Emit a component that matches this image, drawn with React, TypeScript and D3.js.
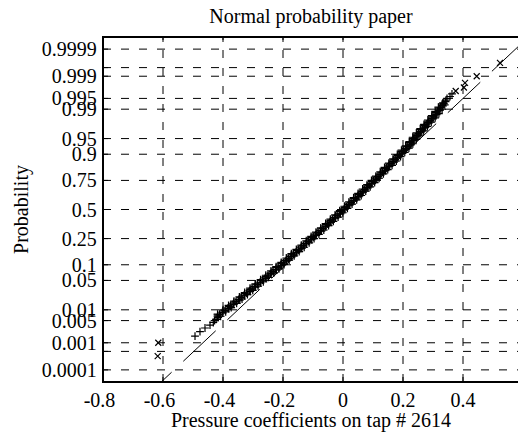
import React from "react";
import * as d3 from "d3";

// ---- data ----
const xTicks = [-0.8, -0.6, -0.4, -0.2, 0, 0.2, 0.4, 0.6];
const xTickLabels = ["-0.8", "-0.6", "-0.4", "-0.2", "0", "0.2", "0.4", ""];
const probTicks = [0.0001, 0.0005, 0.001, 0.005, 0.01, 0.05, 0.1, 0.25, 0.5, 0.75, 0.9, 0.95, 0.99, 0.995, 0.999, 0.9995, 0.9999];
const probLabels = ["0.0001", "", "0.001", "0.005", "0.01", "0.05", "0.1", "0.25", "0.5", "0.75", "0.9", "0.95", "0.99", "0.995", "0.999", "", "0.9999"];

// sample points (normal score of plotting position, pressure coefficient) shown as "+"
const normalScore = [
  -2.935, -2.83, -2.748, -2.68, -2.62, -2.576, -2.55,
  -2.5, -2.45, -2.4, -2.35, -2.3, -2.25, -2.2, -2.15, -2.1, -2.05,
  -2.0, -1.95, -1.9, -1.85, -1.8, -1.75, -1.7, -1.65, -1.6, -1.55,
  -1.5, -1.45, -1.4, -1.35, -1.3, -1.25, -1.2, -1.15, -1.1, -1.05,
  -1.0, -0.95, -0.9, -0.85, -0.8, -0.75, -0.7, -0.65, -0.6, -0.55,
  -0.5, -0.45, -0.4, -0.35, -0.3, -0.25, -0.2, -0.15, -0.1, -0.05,
  0.0, 0.05, 0.1, 0.15, 0.2, 0.25, 0.3, 0.35, 0.4, 0.45,
  0.5, 0.55, 0.6, 0.65, 0.7, 0.75, 0.8, 0.85, 0.9, 0.95,
  1.0, 1.05, 1.1, 1.15, 1.2, 1.25, 1.3, 1.35, 1.4, 1.45,
  1.5, 1.55, 1.6, 1.65, 1.7, 1.75, 1.8, 1.85, 1.9, 1.95,
  2.0, 2.05, 2.1, 2.15, 2.2, 2.25, 2.3, 2.35, 2.4, 2.45,
  2.5, 2.536, 2.576, 2.62, 2.68,
  -2.475, -2.425, -2.375, -2.325, -2.275, -2.225, -2.175, -2.125, -2.075, -2.025,
  -1.975, -1.925, -1.875, -1.825, -1.775, -1.725, -1.675, -1.625, -1.575, -1.525,
  -1.475, -1.425, -1.375, -1.325, -1.275, -1.225, -1.175, -1.125, -1.075, -1.025,
  -0.975, -0.925, -0.875, -0.825, -0.775, -0.725, -0.675, -0.625, -0.575, -0.525,
  -0.475, -0.425, -0.375, -0.325, -0.275, -0.225, -0.175, -0.125, -0.075, -0.025,
  0.025, 0.075, 0.125, 0.175, 0.225, 0.275, 0.325, 0.375, 0.425, 0.475,
  0.525, 0.575, 0.625, 0.675, 0.725, 0.775, 0.825, 0.875, 0.925, 0.975,
  1.025, 1.075, 1.125, 1.175, 1.225, 1.275, 1.325, 1.375, 1.425, 1.475,
  1.525, 1.575, 1.625, 1.675, 1.725, 1.775, 1.825, 1.875, 1.925, 1.975,
  2.025, 2.075, 2.125, 2.175, 2.225, 2.275, 2.325, 2.375, 2.425, 2.475,
  -2.4875, -2.4375, -2.3875, -2.3375, -2.2875, -2.2375, -2.1875, -2.1375, -2.0875, -2.0375,
  -1.9875, -1.9375, -1.8875, -1.8375, -1.7875, -1.7375, -1.6875, -1.6375, -1.5875, -1.5375,
  -1.4875, -1.4375, -1.3875, -1.3375, -1.2875, -1.2375, -1.1875, -1.1375, -1.0875, -1.0375,
  -0.9875, -0.9375, -0.8875, -0.8375, -0.7875, -0.7375, -0.6875, -0.6375, -0.5875, -0.5375,
  -0.4875, -0.4375, -0.3875, -0.3375, -0.2875, -0.2375, -0.1875, -0.1375, -0.0875, -0.0375,
  0.0125, 0.0625, 0.1125, 0.1625, 0.2125, 0.2625, 0.3125, 0.3625, 0.4125, 0.4625,
  0.5125, 0.5625, 0.6125, 0.6625, 0.7125, 0.7625, 0.8125, 0.8625, 0.9125, 0.9625,
  1.0125, 1.0625, 1.1125, 1.1625, 1.2125, 1.2625, 1.3125, 1.3625, 1.4125, 1.4625,
  1.5125, 1.5625, 1.6125, 1.6625, 1.7125, 1.7625, 1.8125, 1.8625, 1.9125, 1.9625,
  2.0125, 2.0625, 2.1125, 2.1625, 2.2125, 2.2625, 2.3125, 2.3625, 2.4125, 2.4625,
];
const pressure = [
  -0.4933, -0.4767, -0.46, -0.4433, -0.4323, -0.428, -0.423,
  -0.416, -0.418, -0.4006, -0.4004, -0.3812, -0.3801, -0.364, -0.364, -0.344, -0.344,
  -0.328, -0.3281, -0.3092, -0.3093, -0.2914, -0.2926, -0.2748, -0.2741, -0.2564, -0.2577,
  -0.24, -0.2394, -0.2218, -0.2232, -0.2056, -0.2061, -0.1876, -0.1882, -0.1708, -0.1724,
  -0.155, -0.1547, -0.1374, -0.1391, -0.1218, -0.1216, -0.1044, -0.1063, -0.0892, -0.0891,
  -0.072, -0.074, -0.057, -0.057, -0.04, -0.0421, -0.0252, -0.0254, -0.0086, -0.0108,
  0.006, 0.0057, 0.0224, 0.0201, 0.0368, 0.0364, 0.053, 0.0505, 0.067, 0.0665,
  0.083, 0.0804, 0.0968, 0.0962, 0.1126, 0.1099, 0.1262, 0.1254, 0.1416, 0.1388,
  0.155, 0.1541, 0.1702, 0.1673, 0.1834, 0.1824, 0.1984, 0.1953, 0.2112, 0.2101,
  0.226, 0.2218, 0.2366, 0.2344, 0.2492, 0.2454, 0.2606, 0.2592, 0.2743, 0.2709,
  0.286, 0.2845, 0.3, 0.2965, 0.312, 0.3094, 0.3228, 0.3201, 0.3334, 0.3307,
  0.342, 0.343, 0.3467, 0.3567, 0.3633,
  -0.4079, -0.4182, -0.391, -0.3998, -0.3727, -0.3816, -0.3545, -0.3635, -0.3365, -0.3455,
  -0.3186, -0.3277, -0.3008, -0.3099, -0.283, -0.2922, -0.2655, -0.2748, -0.2481, -0.2574,
  -0.2307, -0.2401, -0.2135, -0.2229, -0.1964, -0.2059, -0.1794, -0.189, -0.1626, -0.1722,
  -0.1459, -0.1556, -0.1293, -0.139, -0.1127, -0.1225, -0.0964, -0.1063, -0.0802, -0.0901,
  -0.064, -0.074, -0.048, -0.058, -0.0321, -0.0422, -0.0163, -0.0265, -0.0007, -0.0109,
  0.0149, 0.0046, 0.0303, 0.02, 0.0456, 0.0352, 0.0608, 0.0503, 0.0758, 0.0653,
  0.0907, 0.0801, 0.1055, 0.0949, 0.1203, 0.1096, 0.1348, 0.124, 0.1492, 0.1384,
  0.1636, 0.1527, 0.1778, 0.1669, 0.1919, 0.1809, 0.2059, 0.1948, 0.2197, 0.2086,
  0.2329, 0.2207, 0.2445, 0.2323, 0.2563, 0.2445, 0.2689, 0.2573, 0.2816, 0.27,
  0.2943, 0.2828, 0.3073, 0.2958, 0.3197, 0.3071, 0.3305, 0.3178, 0.3391, 0.3334,
  -0.4184, -0.4115, -0.4023, -0.3931, -0.3839, -0.3748, -0.3658, -0.3568, -0.3478, -0.3388,
  -0.3298, -0.3209, -0.312, -0.3031, -0.2942, -0.2854, -0.2766, -0.2679, -0.2592, -0.2505,
  -0.2419, -0.2333, -0.2247, -0.2161, -0.2075, -0.199, -0.1905, -0.1821, -0.1737, -0.1653,
  -0.1569, -0.1486, -0.1403, -0.132, -0.1237, -0.1156, -0.1074, -0.0993, -0.0912, -0.0831,
  -0.075, -0.067, -0.059, -0.051, -0.043, -0.0351, -0.0272, -0.0195, -0.0117, -0.0039,
  0.0039, 0.0116, 0.0193, 0.027, 0.0347, 0.0423, 0.0499, 0.0574, 0.0649, 0.0724,
  0.0798, 0.0872, 0.0946, 0.102, 0.1094, 0.1167, 0.124, 0.1312, 0.1384, 0.1456,
  0.1528, 0.1599, 0.167, 0.1741, 0.1812, 0.1882, 0.1951, 0.202, 0.2089, 0.2158,
  0.2225, 0.2283, 0.2341, 0.2399, 0.2458, 0.252, 0.2583, 0.2647, 0.271, 0.2774,
  0.2836, 0.2901, 0.2966, 0.3031, 0.3094, 0.3148, 0.3201, 0.3254, 0.3307, 0.336,
];
// extreme points drawn as "x"
const tailScore = [-3.4, -3.09, 2.748, 2.83, 2.935, 3.09, 3.4];
const tailPressure = [-0.6177, -0.6157, 0.3757, 0.403, 0.4067, 0.4457, 0.5233];

// reference line (fit through quartiles)
const fitMean = 0.006;
const fitStd = 0.153;

// inverse standard normal CDF (Acklam)
function normInv(p: number): number {
  const a = [-3.969683028665376e1, 2.209460984245205e2, -2.759285104469687e2, 1.38357751867269e2, -3.066479806614716e1, 2.506628277459239];
  const b = [-5.447609879822406e1, 1.615858368580409e2, -1.556989798598866e2, 6.680131188771972e1, -1.328068155288572e1];
  const c = [-7.784894002430293e-3, -3.223964580411365e-1, -2.400758277161838, -2.549732539343734, 4.374664141464968, 2.938163982698783];
  const d = [7.784695709041462e-3, 3.224671290700398e-1, 2.445134137142996, 3.754408661907416];
  const plow = 0.02425;
  if (p < plow) {
    const q = Math.sqrt(-2 * Math.log(p));
    return (((((c[0] * q + c[1]) * q + c[2]) * q + c[3]) * q + c[4]) * q + c[5]) / ((((d[0] * q + d[1]) * q + d[2]) * q + d[3]) * q + 1);
  }
  if (p <= 1 - plow) {
    const q = p - 0.5;
    const r = q * q;
    return ((((((a[0] * r + a[1]) * r + a[2]) * r + a[3]) * r + a[4]) * r + a[5]) * q) / (((((b[0] * r + b[1]) * r + b[2]) * r + b[3]) * r + b[4]) * r + 1);
  }
  const q = Math.sqrt(-2 * Math.log(1 - p));
  return -(((((c[0] * q + c[1]) * q + c[2]) * q + c[3]) * q + c[4]) * q + c[5]) / ((((d[0] * q + d[1]) * q + d[2]) * q + d[3]) * q + 1);
}

const W = 518;
const H = 433;
const L = 103, R = 523, T = 37, B = 382;
const FONT = "'Liberation Serif', 'Times New Roman', serif";

export default function App() {
  const x = d3.scaleLinear().domain([-0.8, 0.6]).range([L, R]);
  const y = d3.scaleLinear().domain([-4, 4]).range([B, T]);

  const linePath = d3.line<number>()
    .x((z) => x(fitMean + fitStd * z))
    .y((z) => y(z))([-4, 4.2]) as string;

  const ms = 3.9;
  const gridDash = "8 10";

  return (
    <svg width={W} height={H} style={{ position: "absolute", left: 0, top: 0, background: "#fff" }}>
      <defs>
        <clipPath id="plot">
          <rect x={L} y={T} width={R - L} height={B - T} />
        </clipPath>
      </defs>
      <rect x={0} y={0} width={W} height={H} fill="#fff" />
      {/* grid */}
      <g stroke="#000" strokeWidth={1} strokeDasharray={gridDash} fill="none">
        {probTicks.map((p, i) => (
          <line key={"h" + i} x1={L} x2={R} y1={y(normInv(p))} y2={y(normInv(p))} />
        ))}
        {xTicks.slice(1, -1).map((v, i) => (
          <line key={"v" + i} x1={x(v)} x2={x(v)} y1={B} y2={T} />
        ))}
      </g>
      {/* reference line */}
      <g clipPath="url(#plot)">
        <path d={linePath} fill="none" stroke="#000" strokeWidth={1} strokeDasharray="44.5 16" strokeDashoffset={30.2} />
        {/* data */}
        <g stroke="#000" strokeWidth={1.2} fill="none">
          {normalScore.map((z, i) => {
            const cx = x(pressure[i]);
            const cy = y(z);
            return <path key={"p" + i} d={`M${cx - ms},${cy}H${cx + ms}M${cx},${cy - ms}V${cy + ms}`} />;
          })}
          {tailScore.map((z, i) => {
            const cx = x(tailPressure[i]);
            const cy = y(z);
            const s = 3;
            return <path key={"t" + i} d={`M${cx - s},${cy - s}L${cx + s},${cy + s}M${cx - s},${cy + s}L${cx + s},${cy - s}`} />;
          })}
        </g>
      </g>
      {/* axes frame */}
      <g stroke="#000" strokeWidth={2} fill="none">
        <line x1={L} x2={L} y1={T - 1} y2={B + 1} />
        <line x1={L - 1} x2={R} y1={T} y2={T} />
        <line x1={L - 1} x2={R} y1={B} y2={B} />
        <line x1={R} x2={R} y1={T} y2={B} />
      </g>
      {/* ticks */}
      <g stroke="#000" strokeWidth={1}>
        {xTicks.map((v, i) => (
          <g key={"xt" + i}>
            <line x1={x(v)} x2={x(v)} y1={B} y2={B - 5} />
            <line x1={x(v)} x2={x(v)} y1={T} y2={T + 5} />
          </g>
        ))}
        {probTicks.map((p, i) => (
          <line key={"yt" + i} x1={L} x2={L + 5} y1={y(normInv(p))} y2={y(normInv(p))} />
        ))}
      </g>
      {/* labels */}
      <g fontFamily={FONT} fontSize={20} fill="#000">
        {xTicks.map((v, i) => (
          <text key={"xl" + i} x={x(v) + (v < 0 ? -3.5 : 0)} y={406.5} textAnchor="middle">
            {xTickLabels[i]}
          </text>
        ))}
        {probTicks.map((p, i) => (
          <text key={"yl" + i} x={96.7} y={y(normInv(p))} dy="0.35em" textAnchor="end">
            {probLabels[i]}
          </text>
        ))}
        <text x={311} y={23} textAnchor="middle">Normal probability paper</text>
        <text x={311} y={427} textAnchor="middle">Pressure coefficients on tap # 2614</text>
        <text transform={`translate(27.5,${(T + B) / 2}) rotate(-90)`} textAnchor="middle">Probability</text>
      </g>
    </svg>
  );
}
